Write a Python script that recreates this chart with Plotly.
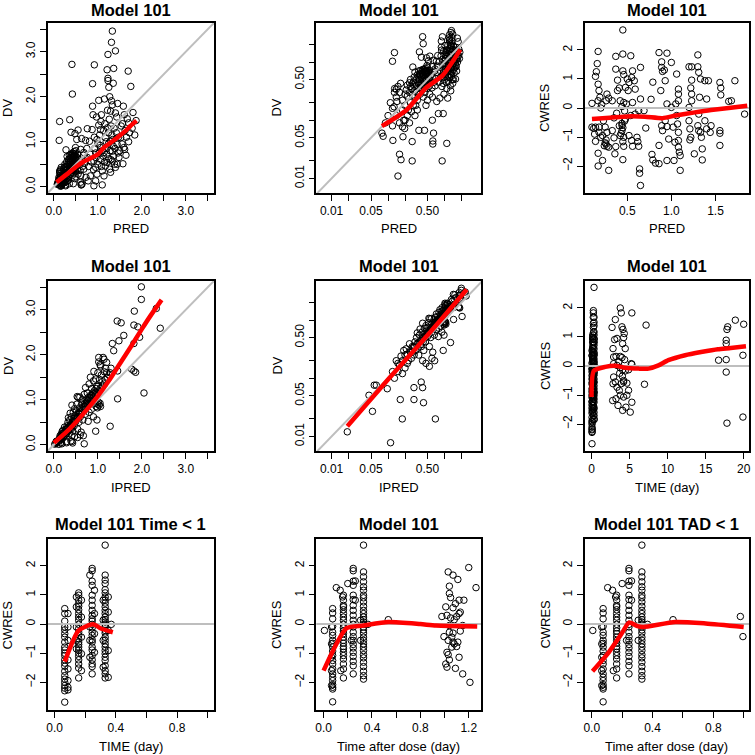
import plotly.graph_objects as go

# ---------------- data ----------------
# Panels 1-2: DV vs PRED
pred_dv_pairs = [
    (1.33,3.46),(1.31,3.21),(1.23,2.94),(1.40,3.02),(0.41,2.72),(0.92,2.71),(1.36,2.63),(1.69,2.57),
    (1.21,2.60),(1.23,2.41),(1.23,2.36),(0.88,2.29),(1.75,2.23),(1.25,2.21),(0.42,2.06),(1.02,1.92),
    (1.31,1.91),(1.33,1.82),(1.58,1.79),(0.88,1.79),(1.08,1.60),(1.29,1.68),(1.40,1.64),(0.89,1.60),
    (0.36,1.49),(0.13,1.45),(1.67,1.51),(1.87,1.47),(1.70,1.42),(1.56,1.40),(1.02,1.37),(1.22,1.31),
    (0.76,1.29),(0.55,1.26),(1.06,1.27),(0.87,1.27),(0.39,1.21),(0.48,1.18),(0.12,1.03),(0.52,1.05),
    (0.72,1.03),(0.81,1.01),(0.98,1.05),(1.17,1.09),(1.52,1.09),(1.29,1.01),(1.44,0.94),(1.61,0.83),
    (1.59,0.87),(1.33,0.79),(1.20,0.72),(1.36,0.68),(1.06,0.61),(0.91,0.57),(1.21,0.54),(1.57,0.51),
    (1.40,0.43),(1.27,0.39),(1.10,0.35),(0.98,0.28),(0.83,0.24),(0.73,0.21),(0.78,0.13),(0.95,0.13),
    (0.64,0.06),(1.10,0.04),(0.61,0.10),(0.55,0.28),(0.68,0.39),(0.61,0.54),(0.76,0.65),(0.83,0.72),
    (0.68,0.76),(0.61,0.83),(0.49,0.87),(1.06,0.87),(1.14,0.76),(1.48,0.65),(1.33,0.57),(1.17,0.46),
    (0.95,0.43),(1.14,0.24),(1.29,0.32),(1.44,0.50),
    (0.078,0.06),(0.082,0.053),(0.09,0.09),(0.10,0.12),(0.11,0.20),(0.122,0.045),(0.12,0.16),(0.128,0.17),
    (0.13,0.30),(0.131,0.35),(0.14,0.34),(0.144,0.21),(0.15,0.011),(0.15,0.38),(0.16,0.026),(0.167,0.43),
    (0.17,0.021),(0.18,0.077),(0.18,0.22),(0.184,0.052),(0.19,0.10),(0.197,0.072),(0.20,0.18),(0.21,0.33),
    (0.22,0.26),(0.22,0.40),(0.23,0.15),(0.24,0.44),(0.24,0.30),(0.25,0.20),(0.25,0.50),(0.268,0.043),
    (0.26,0.35),(0.268,0.020),(0.27,0.27),(0.275,0.82),(0.28,0.45),(0.29,0.55),(0.30,0.67),(0.30,0.38),
    (0.30,0.12),(0.31,0.50),(0.32,0.30),(0.33,0.60),(0.33,0.22),(0.34,0.45),(0.352,0.067),(0.35,0.70),
    (0.35,0.36),(0.36,0.50),(0.37,0.62),(0.37,0.28),(0.38,0.72),(0.38,0.42),(0.39,0.55),(0.40,0.33),
    (0.40,0.65),(0.41,0.48),(0.42,0.75),(0.42,0.25),(0.43,0.38),(0.43,0.58),(0.443,0.067),(0.44,0.68),
    (0.44,0.45),(0.45,0.52),(0.45,0.30),(0.46,0.78),(0.46,0.60),(0.47,0.40),(0.47,0.18),(0.48,0.70),
    (0.48,0.50),(0.49,0.62),(0.49,0.35),(0.50,0.80),(0.50,0.55),(0.50,0.22),(0.51,0.45),(0.52,0.65),
    (0.53,0.38),(0.54,0.72),(0.55,0.50),(0.58,0.60),(0.60,0.36),(0.61,0.25),(0.622,0.044),(0.622,0.039),
    (0.63,1.07),(0.65,0.45),(0.67,0.70),(0.70,0.52),(0.75,0.85),(0.79,0.45),(0.85,0.55),(0.90,0.38),
    (0.91,0.020),(0.93,0.85),(0.96,0.65),(1.00,0.50),(1.03,0.75),(1.05,0.92),(1.08,0.45),(1.12,0.68),
    (1.15,0.55),(1.18,0.85),(1.24,0.95),(1.25,0.62),(1.28,0.80),(1.30,0.60),(1.32,1.15),(1.35,0.90),
    (1.38,0.50),(1.42,1.20),(1.46,0.75),(1.55,0.95),(1.62,1.25),(1.65,1.10),(1.72,1.20),(1.78,1.30),
    (0.12,0.08),(0.14,0.12),(0.16,0.09),(0.18,0.15),(0.20,0.10),(0.22,0.12),(0.24,0.09),(0.26,0.14),
    (0.28,0.18),(0.30,0.25),(0.32,0.40),(0.34,0.55),(0.36,0.62),(0.38,0.58),(0.40,0.70),(0.41,0.60),
    (0.42,0.66),(0.44,0.74),(0.45,0.70),(0.46,0.68),(0.47,0.72),(0.48,0.62),(0.50,0.68),(0.35,0.42),
    (0.37,0.35),(0.39,0.40),(0.41,0.36),(0.43,0.46),(0.45,0.40),(0.47,0.50),(0.49,0.44),(0.52,0.52),
    (0.25,0.38),(0.27,0.42),(0.29,0.32),(0.31,0.18),(0.33,0.15),(0.20,0.28),(0.16,0.30),(0.14,0.25),
    (0.92,1.10),(0.95,0.75),(1.00,0.95),(1.04,1.15),(1.07,1.45),(1.10,0.80),(1.13,1.25),(1.16,1.40),
    (1.19,1.00),(1.22,1.70),(1.24,1.20),(1.26,1.50),(1.30,1.35),(1.34,1.05),(1.37,1.30),(1.39,0.85),
    (1.43,1.55),(1.47,1.10),(1.50,0.80),(1.53,1.35),(1.60,1.60),(1.64,0.70),(1.70,1.00),(1.80,1.65),
    (1.84,1.15),(0.97,1.55),(1.15,1.95),(1.27,2.00),(1.35,2.30),(1.45,1.85),
]
smooth1_pred = [0.06, 0.30, 0.53, 0.68, 0.87, 1.00, 1.14, 1.29, 1.44, 1.63, 1.74, 1.88]
smooth1_dv   = [0.10, 0.28, 0.46, 0.56, 0.65, 0.72, 0.87, 0.98, 1.09, 1.24, 1.35, 1.47]
smooth2_pred = [0.078, 0.21, 0.47, 0.93, 1.91]
smooth2_dv   = [0.079, 0.148, 0.36, 0.59, 1.63]

# Panel 3: CWRES vs PRED
pred_cwres_pairs = [
    (0.17,1.95),(0.16,1.53),(0.15,1.25),(0.14,1.09),(0.17,0.82),(0.18,0.60),(0.19,0.37),(0.10,0.16),
    (0.17,0.25),(0.20,0.00),(0.10,-0.66),(0.14,-0.66),(0.18,-0.66),(0.14,-1.15),(0.18,-0.84),(0.20,-1.01),
    (0.17,-1.56),(0.17,-2.00),(0.22,-1.81),(0.25,-1.20),(0.26,-1.24),(0.27,-1.32),(0.29,-1.35),(0.29,-2.15),
    (0.27,-0.84),(0.25,-0.66),(0.23,-0.44),(0.27,0.48),(0.26,0.25),(0.29,0.34),(0.33,0.25),(0.38,-0.18),
    (0.35,-0.34),(0.33,-0.78),(0.35,-1.03),(0.37,-1.33),(0.36,-1.58),(0.37,1.78),(0.37,1.34),(0.39,0.96),
    (0.41,0.69),(0.39,0.60),(0.12,-0.70),(0.13,-0.90),(0.22,-0.95),(0.24,-1.30),(0.26,-1.10),(0.21,0.12),
    (0.45,2.69),(0.45,1.86),(0.45,1.28),(0.46,1.15),(0.50,1.00),(0.52,0.88),(0.48,0.71),(0.51,0.60),
    (0.54,1.80),(0.56,1.28),(0.55,1.05),(0.58,0.94),(0.59,0.65),(0.42,0.25),(0.46,0.19),(0.49,0.14),
    (0.56,0.19),(0.59,-0.21),(0.54,-0.26),(0.48,-0.38),(0.44,-0.53),(0.41,-0.61),(0.44,-0.78),(0.42,-0.95),
    (0.46,-1.01),(0.45,-1.16),(0.46,-1.32),(0.45,-1.78),(0.52,-0.95),(0.55,-1.12),(0.56,-1.32),(0.61,-1.01),
    (0.62,-1.16),(0.64,-2.10),(0.64,-2.25),(0.65,-2.67),(0.63,-1.32),(0.63,-0.09),(0.65,0.31),(0.65,1.40),
    (0.69,-0.09),(0.71,-0.69),(0.44,-0.60),(0.45,-0.68),(0.43,-0.88),(0.47,-0.45),(0.44,0.05),(0.47,-0.10),
    (0.79,0.89),(0.77,0.30),(0.86,1.91),(0.89,1.59),(0.89,1.40),(0.90,1.26),(0.95,1.89),(0.92,1.31),
    (0.93,0.94),(1.00,1.57),(0.88,0.60),(0.95,0.14),(0.78,-1.60),(0.79,-1.79),(0.82,-1.90),(0.86,-1.92),
    (0.86,-1.29),(0.89,-0.61),(0.90,-0.78),(0.93,-0.44),(0.95,-0.64),(0.95,-1.81),(0.97,-1.07),(1.00,0.02),
    (1.02,-0.66),
    (1.06,1.17),(1.08,0.65),(1.08,0.48),(1.08,0.25),(1.06,-0.26),(1.07,-0.55),(1.08,-0.84),(1.08,-1.12),
    (1.08,-1.35),(1.09,-1.52),(1.10,-1.64),(1.10,-2.15),(1.04,-1.18),(1.03,-1.81),(1.05,0.14),
    (1.20,1.42),(1.23,1.42),(1.23,0.96),(1.22,0.69),(1.23,0.48),(1.23,0.25),(1.20,0.02),(1.20,-0.44),
    (1.21,-0.72),(1.22,-1.01),(1.21,-1.10),(1.26,-1.58),(1.30,1.83),(1.30,1.42),(1.31,1.23),(1.33,1.00),
    (1.32,0.37),(1.31,-0.21),(1.30,-0.61),(1.31,-0.78),(1.33,-0.84),(1.34,-1.01),(1.35,-1.41),(1.35,-1.79),
    (1.38,0.94),(1.38,-0.44),(1.40,0.31),(1.40,-0.72),(1.42,0.94),
    (1.44,-0.84),(1.45,-0.61),(1.55,0.88),(1.56,0.69),(1.56,0.45),(1.55,-0.78),(1.55,-0.87),(1.55,-1.29),
    (1.65,0.23),(1.68,0.25),(1.72,0.94),(1.83,-0.21),
]
smooth3_pred  = [0.10, 0.30, 0.50, 0.70, 0.90, 1.05, 1.25, 1.45, 1.65, 1.86]
smooth3_cwres = [-0.38, -0.34, -0.29, -0.30, -0.35, -0.26, -0.16, -0.07, 0.00, 0.08]

# Panels 4-5: DV vs IPRED
ipred_dv_pairs = [
    (0.019,0.012),(0.046,0.051),(0.053,0.027),(0.057,0.076),(0.062,0.076),(0.097,0.066),(0.111,0.0078),
    (0.12,0.13),(0.13,0.10),(0.14,0.20),(0.15,0.13),(0.16,0.17),(0.165,0.043),(0.17,0.24),(0.179,0.020),
    (0.18,0.12),(0.19,0.30),(0.20,0.15),(0.20,0.25),(0.21,0.32),(0.22,0.18),(0.23,0.20),(0.24,0.39),
    (0.25,0.28),(0.26,0.22),(0.27,0.35),(0.28,0.34),(0.288,0.043),(0.288,0.069),(0.29,0.25),(0.30,0.42),
    (0.31,0.30),(0.32,0.50),(0.33,0.60),(0.34,0.40),(0.35,0.25),(0.36,0.55),(0.37,0.70),(0.38,0.45),
    (0.387,0.086),(0.39,0.35),(0.40,0.62),(0.41,0.069),(0.41,0.88),(0.41,0.20),(0.42,0.50),(0.425,0.038),
    (0.43,0.30),(0.44,0.72),(0.45,0.58),(0.46,0.42),(0.47,0.18),(0.47,0.80),(0.48,0.65),(0.50,0.52),
    (0.51,0.75),(0.52,0.90),(0.53,0.62),(0.54,0.35),(0.54,0.16),(0.55,1.05),(0.56,0.70),(0.57,0.50),
    (0.58,0.82),(0.59,1.06),(0.60,0.62),(0.60,0.22),(0.53,1.07),
    (0.62,0.28),(0.63,0.90),(0.64,0.75),(0.65,1.00),(0.66,0.55),(0.67,0.20),(0.69,0.020),(0.69,1.12),
    (0.70,0.85),(0.72,1.27),(0.72,0.68),(0.74,1.00),(0.75,0.95),(0.76,1.15),(0.78,0.52),(0.78,1.05),
    (0.80,0.72),(0.80,1.35),(0.82,0.90),(0.83,1.50),(0.84,1.10),(0.85,0.78),(0.86,1.25),(0.88,0.95),
    (0.90,1.42),(0.90,0.62),(0.91,1.63),(0.92,1.15),(0.94,0.92),(0.95,0.30),(0.95,1.46),(0.96,0.85),
    (0.97,1.30),(0.98,0.55),(1.00,1.60),(1.00,0.90),(1.01,0.95),(1.03,0.88),(1.05,0.92),(0.99,0.82),
    (1.02,1.94),(1.02,1.84),(1.03,1.20),(1.04,1.45),(1.05,1.78),(1.06,1.75),(1.06,0.85),(1.08,1.55),
    (1.10,1.30),(1.12,1.94),(1.14,1.90),(1.15,1.62),(1.16,1.45),(1.18,1.70),(1.20,1.83),(1.22,1.50),
    (1.28,0.41),(1.28,1.60),
    (1.99,3.51),(1.99,3.23),(2.33,3.03),(1.83,2.97),(1.44,2.75),(1.53,2.71),(1.82,2.66),(1.91,2.62),
    (2.42,2.59),(1.59,2.43),(1.33,2.25),(1.48,2.31),(1.95,2.39),(1.82,2.25),(1.36,2.09),(1.45,1.64),
    (1.77,1.68),(1.82,1.64),(1.86,1.61),(1.45,1.02),(2.05,1.15),
    (0.32,0.38),(0.34,0.33),(0.36,0.42),(0.38,0.38),(0.40,0.45),(0.42,0.42),(0.44,0.52),(0.46,0.50),
    (0.48,0.55),(0.50,0.60),(0.52,0.58),(0.55,0.62),(0.58,0.68),(0.60,0.72),(0.62,0.70),(0.64,0.80),
    (0.66,0.78),(0.68,0.85),(0.70,0.92),(0.72,0.88),(0.74,0.92),(0.76,0.98),(0.78,0.90),(0.80,1.00),
    (0.82,1.05),(0.84,0.98),(0.86,1.10),(0.88,1.15),(0.90,1.05),(0.92,1.20),(0.94,1.10),(0.96,1.25),
    (0.98,1.15),(1.00,1.30),(1.05,1.25),(1.10,1.40),(1.15,1.35),(1.20,1.60),(1.25,1.55),(1.30,1.70),
    (0.25,0.30),(0.27,0.28),(0.29,0.35),(0.22,0.26),(0.18,0.20),(0.15,0.18),
]
smooth4_ipred = [0.0, 0.25, 0.5, 0.75, 1.0, 1.25, 1.5, 1.75, 2.0, 2.2, 2.45]
smooth4_dv    = [0.04, 0.25, 0.50, 0.78, 1.08, 1.42, 1.80, 2.18, 2.57, 2.87, 3.22]
smooth5_ipred = [0.019, 0.10, 0.316, 0.935, 2.48]
smooth5_dv    = [0.015, 0.095, 0.33, 1.10, 3.35]

# Panels 6-7: CWRES vs TIME
time_cwres_pairs = [
    (0.066,0.53),(0.066,0.36),(0.066,0.10),(0.066,-0.10),(0.066,-0.20),(0.066,-0.33),(0.066,-0.45),
    (0.066,-0.62),(0.066,-0.79),(0.066,-0.89),(0.066,-1.00),(0.066,-1.08),(0.066,-1.23),(0.066,-1.34),
    (0.066,-1.45),(0.066,-1.62),(0.066,-1.77),(0.066,-1.89),(0.066,-2.00),(0.066,-2.11),(0.066,-2.20),
    (0.066,-2.29),(0.066,-2.68),
    (0.087,0.36),(0.087,-0.10),(0.087,-0.56),(0.087,-1.23),(0.087,-1.54),(0.087,-1.94),(0.087,-2.17),
    (0.087,-2.26),
    (0.157,1.07),(0.157,0.99),(0.157,0.82),(0.157,0.70),(0.157,0.61),(0.157,0.49),(0.157,0.36),
    (0.157,0.24),(0.157,0.13),(0.157,-0.01),(0.157,-0.16),(0.157,-0.28),(0.157,-0.39),(0.157,-0.51),
    (0.157,-0.62),(0.157,-0.70),(0.157,-0.79),(0.157,-0.89),(0.157,-1.00),(0.157,-1.11),(0.157,-1.23),
    (0.157,-1.37),(0.157,-1.51),(0.157,-1.85),
    (0.142,0.93),(0.142,0.59),(0.142,-0.10),(0.142,-0.56),(0.142,-0.85),
    (0.175,0.82),(0.175,0.24),(0.175,-0.45),(0.175,-1.02),(0.175,-1.60),
    (0.245,1.91),(0.245,1.83),(0.245,1.47),(0.245,1.33),(0.245,0.99),(0.245,0.82),(0.245,0.64),
    (0.245,0.47),(0.245,0.30),(0.245,0.18),(0.245,0.10),(0.245,-0.01),(0.245,-0.13),(0.245,-0.28),
    (0.245,-0.39),(0.245,-0.54),(0.245,-0.62),(0.245,-0.79),(0.245,-0.89),(0.245,-1.08),(0.245,-1.23),
    (0.245,-1.37),(0.245,-1.46),(0.245,-1.71),
    (0.23,1.68),(0.23,-0.10),(0.23,-0.56),(0.23,-1.14),
    (0.26,1.16),(0.26,0.36),(0.26,-0.33),(0.26,-0.97),
    (0.33,2.71),(0.33,1.68),(0.33,1.51),(0.33,1.39),(0.33,1.18),(0.33,1.07),(0.33,0.93),(0.33,0.82),
    (0.33,0.72),(0.33,0.59),(0.33,0.47),(0.33,0.36),(0.33,0.24),(0.33,0.15),(0.33,0.07),(0.33,-0.01),
    (0.33,-0.10),(0.33,-0.22),(0.33,-0.31),(0.33,-0.45),(0.33,-0.56),(0.33,-0.68),(0.33,-0.79),
    (0.33,-0.91),(0.33,-1.02),(0.33,-1.14),(0.33,-1.25),(0.33,-1.43),(0.33,-1.60),(0.33,-1.71),
    (0.33,-1.85),
    (0.317,0.82),(0.317,0.13),(0.317,-0.56),(0.317,-1.48),
    (0.35,0.93),(0.35,0.41),(0.35,-0.22),(0.35,-0.91),(0.35,-1.83),(0.37,-0.01),
    (2.70,1.33),(3.13,1.60),(3.78,2.00),(3.91,1.83),(5.30,1.83),(3.04,0.91),(2.83,0.60),(3.35,0.95),
    (4.00,1.35),(4.13,1.26),(4.30,1.12),(4.22,0.98),(4.09,0.77),(4.43,0.60),(2.91,0.31),(3.22,0.33),
    (3.78,0.33),(4.00,0.29),(4.35,0.22),(2.91,0.08),(3.35,0.02),(3.78,-0.06),(4.09,-0.13),(4.43,-0.17),
    (4.87,-0.13),(5.22,0.08),(5.30,0.06),(2.91,-0.38),(3.13,-0.55),(2.83,-0.61),(3.35,-0.73),(3.65,-0.84),
    (3.91,-0.61),(4.22,-0.50),(4.65,-0.59),(4.87,-0.84),(4.65,-1.01),(4.22,-1.07),(3.78,-1.01),
    (3.22,-1.13),(2.78,-1.19),(3.48,-1.36),(4.09,-1.53),(4.52,-1.42),(5.09,-1.59),(5.30,-1.25),
    (4.22,-0.55),(3.60,0.15),(3.70,-0.25),(4.05,-0.35),
    (7.17,1.41),(6.96,-0.63),(16.7,0.20),(17.7,0.22),(17.7,-0.21),(17.8,-1.97),(17.7,0.89),(17.8,1.26),
    (17.9,1.35),(17.7,0.77),(18.9,1.58),(20.0,1.44),(19.9,0.37),(19.9,-1.76),
]
smooth6_time  = [0.0, 0.3, 1.8, 3.1, 4.4, 6.2, 7.5, 8.8, 10.1, 12.3, 14.4, 16.6, 18.3, 20.3]
smooth6_cwres = [-1.07, -0.17, -0.03, 0.01, -0.06, -0.09, -0.09, 0.02, 0.20, 0.37, 0.48, 0.58, 0.62, 0.68]
smooth7_time  = [0.066, 0.157, 0.25, 0.306, 0.38]
smooth7_cwres = [-1.29, -0.22, -0.01, -0.16, -0.28]
time_cut = 1

# Panels 8-9: CWRES vs time after dose
tad_cwres_pairs = [
    (0.007,-0.22),
    (0.075,0.53),(0.075,0.38),(0.075,0.18),(0.075,-0.08),(0.075,-0.28),(0.075,-0.39),(0.075,-0.56),
    (0.075,-0.66),(0.075,-0.79),(0.075,-0.93),(0.075,-1.08),(0.075,-1.25),(0.075,-1.37),(0.075,-1.54),
    (0.075,-1.71),(0.075,-1.83),(0.075,-1.94),(0.075,-2.08),(0.075,-2.17),(0.075,-2.23),(0.075,-2.67),
    (0.066,-0.10),(0.066,-0.68),(0.066,-1.14),(0.066,-1.60),(0.066,-2.11),
    (0.105,1.25),(0.137,1.16),(0.157,0.93),
    (0.164,0.99),(0.164,0.82),(0.164,0.64),(0.164,0.59),(0.164,0.49),(0.164,0.36),(0.164,0.24),
    (0.164,0.13),(0.164,-0.01),(0.164,-0.13),(0.164,-0.24),(0.164,-0.33),(0.164,-0.45),(0.164,-0.56),
    (0.164,-0.66),(0.164,-0.77),(0.164,-0.85),(0.164,-0.97),(0.164,-1.08),(0.164,-1.20),(0.164,-1.37),
    (0.164,-1.54),(0.164,-1.85),
    (0.142,-1.60),(0.20,1.39),(0.229,-0.56),
    (0.245,1.91),(0.245,1.83),(0.245,1.47),(0.245,1.33),(0.245,0.99),(0.245,0.84),(0.245,0.64),
    (0.245,0.47),(0.245,0.30),(0.245,0.13),(0.245,-0.01),(0.245,-0.10),(0.245,-0.28),(0.245,-0.43),
    (0.245,-0.56),(0.245,-0.70),(0.245,-0.82),(0.245,-0.97),(0.245,-1.11),(0.245,-1.28),(0.245,-1.43),
    (0.245,-1.71),
    (0.262,1.48),(0.262,0.82),
    (0.33,2.71),(0.33,1.79),(0.33,1.62),(0.33,1.45),(0.33,1.28),(0.33,1.16),(0.33,0.99),(0.33,0.90),
    (0.33,0.76),(0.33,0.61),(0.33,0.47),(0.33,0.36),(0.33,0.24),(0.33,0.15),(0.33,0.07),(0.33,-0.01),
    (0.33,-0.10),(0.33,-0.20),(0.33,-0.31),(0.33,-0.45),(0.33,-0.56),(0.33,-0.68),(0.33,-0.79),
    (0.33,-0.91),(0.33,-1.05),(0.33,-1.16),(0.33,-1.31),(0.33,-1.46),(0.33,-1.62),(0.33,-1.77),
    (0.33,-1.89),
    (0.306,-0.56),(0.306,0.13),(0.367,-0.01),
    (0.535,0.15),(0.978,0.26),(0.995,-0.43),
    (1.03,1.79),(1.07,1.68),(1.04,1.30),(1.11,1.53),(1.20,1.94),(1.16,0.82),(1.26,1.25),(1.04,1.05),
    (1.05,0.91),(1.07,0.56),(1.01,0.59),(1.02,0.30),(1.05,0.21),(1.08,0.15),(1.10,0.26),(1.12,0.36),
    (1.13,0.41),(1.09,0.70),(1.12,0.82),(1.04,-0.05),(1.04,-0.28),(1.06,-0.45),(1.07,-0.62),(1.08,-0.68),
    (1.10,-0.77),(1.11,-0.62),(1.06,-0.79),(1.02,-0.97),(1.03,-1.05),(1.04,-1.23),(1.01,-1.37),
    (1.02,-1.48),(1.09,-1.52),(1.12,-1.14),(1.15,-1.71),(1.21,-2.00),(1.03,-0.56),(1.07,-0.31),
    (1.13,-0.24),(1.15,-0.05),
]
smooth8_tad   = [0.0, 0.19, 0.33, 0.535, 0.80, 0.93, 1.27]
smooth8_cwres = [-1.60, -0.14, -0.05, 0.07, 0.00, -0.05, -0.08]
smooth9_tad   = [0.005, 0.10, 0.20, 0.245, 0.30, 0.34, 0.55, 0.75, 1.00]
smooth9_cwres = [-1.62, -1.05, -0.30, 0.05, -0.07, -0.10, 0.07, 0.02, -0.10]
tad_cut = 1

# tick definitions
lin_ticks = [0, 0.5, 1.0, 1.5, 2.0, 2.5, 3.0, 3.5]
lin_text = ["0.0", "", "1.0", "", "2.0", "", "3.0", ""]
log_ticks = [0.01, 0.02, 0.05, 0.1, 0.2, 0.5, 1, 2]
log_text = ["0.01", "", "0.05", "", "", "0.50", "", ""]
res_ticks = [-2, -1, 0, 1, 2]
res_text = ["\u22122", "\u22121", "0", "1", "2"]
pred_ticks = [0.5, 1.0, 1.5]
pred_text = ["0.5", "1.0", "1.5"]
time_ticks = [0, 5, 10, 15, 20]
time_text = ["0", "5", "10", "15", "20"]
frac_ticks = [0, 0.2, 0.4, 0.6, 0.8, 1.0]
frac_text = ["0.0", "", "0.4", "", "0.8", ""]
tad_ticks = [0, 0.2, 0.4, 0.6, 0.8, 1.0, 1.2]
tad_text = ["0.0", "", "0.4", "", "0.8", "", "1.2"]

identity_lin = [-1, 6]
identity_log = [0.001, 10]
hline_span = [-100, 100]


def unzip(pairs):
    return [p[0] for p in pairs], [p[1] for p in pairs]


pred_a, dv_a = unzip(pred_dv_pairs)
pred_c, cwres_c = unzip(pred_cwres_pairs)
ipred_b, dv_b = unzip(ipred_dv_pairs)
time_t, cwres_t = unzip(time_cwres_pairs)
tad_d, cwres_d = unzip(tad_cwres_pairs)
t7 = [(t, c) for t, c in time_cwres_pairs if t < time_cut]
time7, cwres7 = unzip(t7)
d9 = [(t, c) for t, c in tad_cwres_pairs if t < tad_cut]
tad9, cwres9 = unzip(d9)

# ---------------- layout geometry ----------------
W = H = 755
cols = [(46, 213), (316, 482), (586, 751)]
rows = [(23, 193), (281, 451), (539, 710)]
FONT = "Liberation Sans, Arial, Helvetica, sans-serif"

panels = [
    dict(x=pred_a, y=dv_a, sx=smooth1_pred, sy=smooth1_dv, ref="id_lin", xtype="linear", ytype="linear",
         xr=[-0.14, 3.64], yr=[-0.14, 3.64], xt=(lin_ticks, lin_text), yt=(lin_ticks, lin_text),
         title="Model 101", xl="PRED", yl="DV"),
    dict(x=pred_a, y=dv_a, sx=smooth2_pred, sy=smooth2_dv, ref="id_log", xtype="log", ytype="log",
         xr=[-2.27, 0.655], yr=[-2.25, 0.67], xt=(log_ticks, log_text), yt=(log_ticks, log_text),
         title="Model 101", xl="PRED", yl="DV"),
    dict(x=pred_c, y=cwres_c, sx=smooth3_pred, sy=smooth3_cwres, ref="h0", xtype="linear", ytype="linear",
         xr=[0.02, 1.88], yr=[-2.93, 2.93], xt=(pred_ticks, pred_text), yt=(res_ticks, res_text),
         title="Model 101", xl="PRED", yl="CWRES"),
    dict(x=ipred_b, y=dv_b, sx=smooth4_ipred, sy=smooth4_dv, ref="id_lin", xtype="linear", ytype="linear",
         xr=[-0.14, 3.64], yr=[-0.14, 3.64], xt=(lin_ticks, lin_text), yt=(lin_ticks, lin_text),
         title="Model 101", xl="IPRED", yl="DV"),
    dict(x=ipred_b, y=dv_b, sx=smooth5_ipred, sy=smooth5_dv, ref="id_log", xtype="log", ytype="log",
         xr=[-2.27, 0.655], yr=[-2.25, 0.67], xt=(log_ticks, log_text), yt=(log_ticks, log_text),
         title="Model 101", xl="IPRED", yl="DV"),
    dict(x=time_t, y=cwres_t, sx=smooth6_time, sy=smooth6_cwres, ref="h0", xtype="linear", ytype="linear",
         xr=[-0.87, 20.7], yr=[-2.93, 2.93], xt=(time_ticks, time_text), yt=(res_ticks, res_text),
         title="Model 101", xl="TIME (day)", yl="CWRES"),
    dict(x=time7, y=cwres7, sx=smooth7_time, sy=smooth7_cwres, ref="h0", xtype="linear", ytype="linear",
         xr=[-0.045, 1.04], yr=[-2.95, 2.92], xt=(frac_ticks, frac_text), yt=(res_ticks, res_text),
         title="Model 101 Time < 1", xl="TIME (day)", yl="CWRES"),
    dict(x=tad_d, y=cwres_d, sx=smooth8_tad, sy=smooth8_cwres, ref="h0", xtype="linear", ytype="linear",
         xr=[-0.06, 1.305], yr=[-2.95, 2.92], xt=(tad_ticks, tad_text), yt=(res_ticks, res_text),
         title="Model 101", xl="Time after dose (day)", yl="CWRES"),
    dict(x=tad9, y=cwres9, sx=smooth9_tad, sy=smooth9_cwres, ref="h0", xtype="linear", ytype="linear",
         xr=[-0.045, 1.035], yr=[-2.95, 2.92], xt=(frac_ticks, frac_text), yt=(res_ticks, res_text),
         title="Model 101 TAD < 1", xl="Time after dose (day)", yl="CWRES"),
]

fig = go.Figure()
annotations = []
layout_axes = {}

for i, p in enumerate(panels):
    k = i + 1
    r, c = divmod(i, 3)
    x0, x1 = cols[c]
    y0, y1 = rows[r]
    xid = "x" if k == 1 else f"x{k}"
    yid = "y" if k == 1 else f"y{k}"
    xkey = "xaxis" if k == 1 else f"xaxis{k}"
    ykey = "yaxis" if k == 1 else f"yaxis{k}"

    common = dict(showgrid=False, zeroline=False, showline=True, mirror=True, linecolor="black",
                  linewidth=1.5, ticks="outside", ticklen=6, tickwidth=1.3, tickcolor="black",
                  tickmode="array", tickfont=dict(family=FONT, size=12, color="black"))
    layout_axes[xkey] = dict(common, domain=[x0 / W, x1 / W], anchor=yid, type=p["xtype"],
                             range=p["xr"], tickvals=p["xt"][0], ticktext=p["xt"][1])
    layout_axes[ykey] = dict(common, domain=[1 - y1 / H, 1 - y0 / H], anchor=xid, type=p["ytype"],
                             range=p["yr"], tickvals=p["yt"][0], ticktext=p["yt"][1], tickangle=-90)

    # points
    fig.add_trace(go.Scatter(x=p["x"], y=p["y"], mode="markers", xaxis=xid, yaxis=yid,
                             marker=dict(symbol="circle-open", size=6.5, color="black",
                                         line=dict(width=1, color="black")),
                             showlegend=False, hoverinfo="skip"))
    # reference line
    if p["ref"] == "id_lin":
        rx, ry = identity_lin, identity_lin
    elif p["ref"] == "id_log":
        rx, ry = identity_log, identity_log
    else:
        rx, ry = hline_span, [0, 0]
    fig.add_trace(go.Scatter(x=rx, y=ry, mode="lines", xaxis=xid, yaxis=yid,
                             line=dict(color="#BEBEBE", width=2), showlegend=False, hoverinfo="skip"))
    # smoother
    fig.add_trace(go.Scatter(x=p["sx"], y=p["sy"], mode="lines", xaxis=xid, yaxis=yid,
                             line=dict(color="#FF0000", width=4.5, shape="spline", smoothing=0.6),
                             showlegend=False, hoverinfo="skip"))

    cx = (x0 + x1) / 2 / W
    title_y = max(y0 - 15, 10.5)
    annotations.append(dict(text=f"<b>{p['title']}</b>", x=cx, y=1 - title_y / H, xref="paper",
                            yref="paper", xanchor="center", yanchor="middle", showarrow=False,
                            borderpad=0, font=dict(family=FONT, size=16.5, color="black")))
    annotations.append(dict(text=p["xl"], x=cx, y=1 - (y1 + 36) / H, xref="paper", yref="paper",
                            xanchor="center", yanchor="middle", showarrow=False,
                            font=dict(family=FONT, size=13, color="black")))
    annotations.append(dict(text=p["yl"], x=(x0 - 40) / W, y=1 - (y0 + y1) / 2 / H, xref="paper",
                            yref="paper", xanchor="center", yanchor="middle", textangle=-90,
                            showarrow=False, font=dict(family=FONT, size=13, color="black")))

fig.update_layout(width=W, height=H, margin=dict(l=0, r=0, t=0, b=0), plot_bgcolor="white",
                  paper_bgcolor="white", annotations=annotations, showlegend=False, **layout_axes)

fig.write_html("out.html", config={"displayModeBar": False},
               post_script="document.body.style.margin='0';document.body.style.overflow='hidden';")
